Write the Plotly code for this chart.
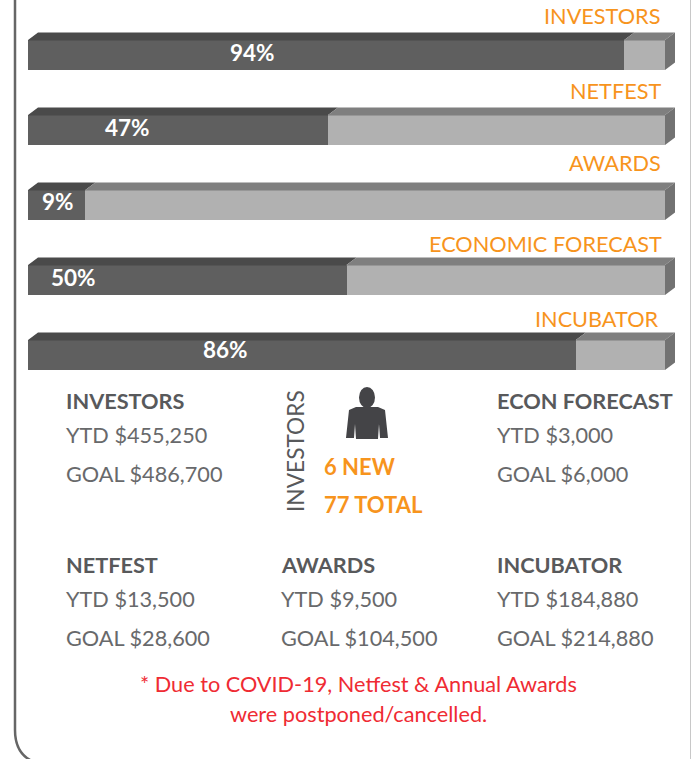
import plotly.graph_objects as go

W, H = 691, 759
categories = ["INVESTORS", "NETFEST", "AWARDS", "ECONOMIC FORECAST", "INCUBATOR"]
percent_done = [93.6, 47.1, 9.0, 50.0, 86.0]
percent_left = [6.4, 52.9, 91.0, 50.0, 14.0]
percent_labels = ["94%", "47%", "9%", "50%", "86%"]

funds = ["INVESTORS", "ECON FORECAST", "NETFEST", "AWARDS", "INCUBATOR"]
ytd = ["YTD $455,250", "YTD $3,000", "YTD $13,500", "YTD $9,500", "YTD $184,880"]
goal = ["GOAL $486,700", "GOAL $6,000", "GOAL $28,600", "GOAL $104,500", "GOAL $214,880"]
investor_stats = ["6 NEW", "77 TOTAL"]
note = ["* Due to COVID-19, Netfest & Annual Awards", "were postponed/cancelled."]

FONT = "Lato"
DARK, LIGHT = "#5f5f5f", "#b1b1b1"
DARK_TOP, LIGHT_TOP, SIDE = "#4a4a4a", "#7f7f7f", "#727272"
ORANGE, TEXT, BODY, RED = "#f7941d", "#58595b", "#68696b", "#ef2b33"
DEPTH_X, DEPTH_Y, BAR_PX = 10, 7.5, 30
PX_PER_PCT = 6.37

fig = go.Figure()
fig.add_bar(y=categories, x=percent_done, orientation="h", marker=dict(color=DARK, line_width=0), hoverinfo="skip")
fig.add_bar(y=categories, x=percent_left, orientation="h", marker=dict(color=LIGHT, line_width=0), hoverinfo="skip")


def px(x):
    return x / W


def py(y):
    return 1 - y / H


def label(x, y, text, size=21.7, color=BODY, anchor="left", angle=0, weight=400):
    fig.add_annotation(xref="paper", yref="paper", x=px(x), y=py(y), text=text, showarrow=False,
                       xanchor=anchor, yanchor="middle", textangle=angle,
                       font=dict(family=FONT, size=size, color=color, weight=weight),
                       borderpad=0, borderwidth=0)


# 3D faces of the bars, anchored on the bar values, sized in pixels
for cat, done in zip(categories, percent_done):
    up = BAR_PX / 2
    for x0, x1, col in ((0, done, DARK_TOP), (done, 100, LIGHT_TOP)):
        w = (x1 - x0) * PX_PER_PCT
        fig.add_shape(type="path", xref="x", yref="y", xsizemode="pixel", ysizemode="pixel",
                      xanchor=x0, yanchor=cat,
                      path=f"M0,{up - 0.5} L0,{up} L{DEPTH_X},{up + DEPTH_Y} L{DEPTH_X + w},{up + DEPTH_Y} L{w},{up} L{w},{up - 0.5} Z",
                      fillcolor=col, line_width=0, layer="above")
    fig.add_shape(type="path", xref="x", yref="y", xsizemode="pixel", ysizemode="pixel",
                  xanchor=100, yanchor=cat,
                  path=f"M0,{up} L{DEPTH_X},{up + DEPTH_Y} L{DEPTH_X},{-up + DEPTH_Y} L0,{-up} Z",
                  fillcolor=SIDE, line_width=0, layer="above")

# Bar texts
for t, x, y in zip(percent_labels, [252, 128, 58, 73, 225], [53, 127, 201, 277, 350]):
    label(x, y, t, size=22.5, color="white", anchor="center", weight=700)
for c, x, y in zip(categories, [660, 661, 661, 662, 658], [16, 91, 163, 244, 319]):
    label(x, y, c, color=ORANGE, anchor="right")

# Fund blocks
for name, y_txt, g_txt, x, y in zip(funds, ytd, goal, [66, 497, 66, 281, 497], [401, 401, 565, 565, 565]):
    label(x, y, name, size=21.7, color=TEXT, weight=700)
    label(x, y + 34, y_txt)
    label(x, y + 73, g_txt)

# Investor block
label(295, 451, "INVESTORS", size=22.7, color=TEXT, angle=-90, anchor="center")
label(324, 466, investor_stats[0], size=22, color=ORANGE, weight=700)
label(324, 504, investor_stats[1], size=22, color=ORANGE, weight=700)

fig.add_shape(type="circle", xref="paper", yref="paper", x0=px(359), x1=px(375), y0=py(387), y1=py(408),
              fillcolor="#444447", line_width=0)
body = [(356, 407), (378, 407), (385, 410), (388, 438), (380, 438), (379, 424), (378, 439),
        (356, 439), (355, 424), (354, 438), (346, 438), (349, 410)]
fig.add_shape(type="path", xref="paper", yref="paper", fillcolor="#444447", line_width=0,
              path="M" + " L".join(f"{px(a):.5f},{py(b):.5f}" for a, b in body) + " Z")

# Footnote
label(358, 684, note[0], color=RED, anchor="center")
label(358, 714, note[1], color=RED, anchor="center")

# Rounded panel border
fig.add_shape(type="path", xref="paper", yref="paper", line=dict(color="#666666", width=2.5),
              path=f"M{px(15)},{py(0)} L{px(15)},{py(730)} Q{px(15)},{py(753)} {px(32)},{py(761)}")
fig.add_shape(type="line", xref="paper", yref="paper", x0=px(690.5), x1=px(690.5), y0=py(0), y1=py(759),
              line=dict(color="#c8c8c8", width=1))

fig.update_layout(
    width=W, height=H, autosize=False, barmode="stack", bargap=0.6, showlegend=False,
    margin=dict(l=0, r=0, t=0, b=0), paper_bgcolor="white", plot_bgcolor="white",
    xaxis=dict(domain=[28 / W, 685 / W], range=[0, 657 / PX_PER_PCT], visible=False, fixedrange=True),
    yaxis=dict(domain=[1 - 392.5 / H, 1 - 9.5 / H], range=[4.5, -0.5 - 8 / 75], visible=False, fixedrange=True,
               type="category", categoryorder="array", categoryarray=categories),
)
fig.write_html("out.html", config={"displayModeBar": False}, post_script="document.body.style.margin='0';document.documentElement.style.overflow='hidden';")
